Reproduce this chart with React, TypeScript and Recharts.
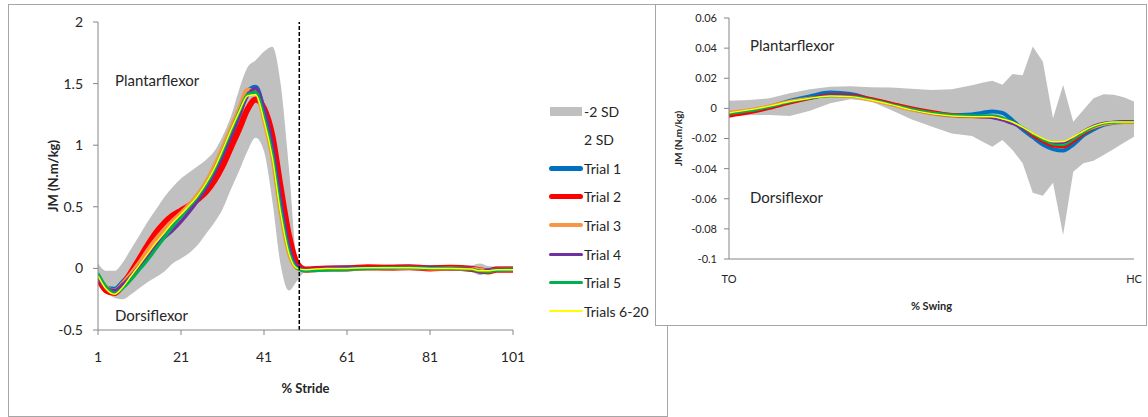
import { ComposedChart, Line, Area, XAxis, YAxis, ReferenceLine } from 'recharts';

// stance + swing (left chart), % stride
const strideX = [1, 3, 5, 7, 9, 11, 13, 15, 17, 19, 21, 23, 25, 27, 29, 31, 33, 35, 37, 39, 41, 43, 45, 47, 49, 51, 56, 61, 66, 71, 76, 81, 86, 91, 93, 95, 97, 101];
const strideSdLow = [-0.12, -0.19, -0.24, -0.25, -0.21, -0.16, -0.11, -0.07, -0.025, 0.04, 0.08, 0.125, 0.19, 0.28, 0.37, 0.48, 0.64, 0.79, 0.95, 1.06, 0.95, 0.55, 0.03, -0.18, -0.1, -0.03, -0.02, -0.015, -0.015, -0.01, -0.01, -0.015, -0.015, -0.03, -0.055, -0.04, -0.03, -0.025];
const strideSdHigh = [0.04, -0.02, -0.02, 0.05, 0.16, 0.27, 0.38, 0.48, 0.58, 0.66, 0.73, 0.78, 0.83, 0.88, 0.95, 1.07, 1.23, 1.45, 1.63, 1.69, 1.76, 1.8, 1.5, 0.82, 0.07, 0.02, 0.015, 0.015, 0.02, 0.02, 0.02, 0.015, 0.015, 0.025, 0.04, 0.02, 0.015, 0.015];
const strideTrial1 = [-0.07, -0.16, -0.17, -0.11, -0.04, 0.03, 0.13, 0.22, 0.3, 0.37, 0.44, 0.5, 0.57, 0.66, 0.78, 0.92, 1.08, 1.25, 1.43, 1.47, 1.26, 0.97, 0.52, 0.16, 0.01, -0.01, 0, 0.005, 0.005, 0.01, 0.01, 0.005, 0.005, 0, -0.02, -0.02, -0.005, -0.005];
const strideTrial2 = [-0.08, -0.18, -0.2, -0.13, -0.03, 0.08, 0.19, 0.29, 0.37, 0.43, 0.47, 0.51, 0.56, 0.62, 0.71, 0.83, 0.98, 1.13, 1.29, 1.37, 1.3, 1.08, 0.66, 0.27, 0.04, -0.01, 0, 0, 0.01, 0.005, 0.01, 0, 0.005, -0.005, -0.015, -0.025, -0.01, -0.01];
const strideTrial3 = [-0.06, -0.15, -0.18, -0.12, -0.04, 0.05, 0.15, 0.24, 0.32, 0.39, 0.45, 0.52, 0.6, 0.7, 0.83, 0.98, 1.14, 1.3, 1.45, 1.44, 1.2, 0.9, 0.45, 0.12, 0, -0.015, -0.01, -0.005, 0, 0, 0.005, 0, 0, -0.005, -0.01, -0.02, -0.01, -0.01];
const strideTrial4 = [-0.07, -0.16, -0.18, -0.13, -0.06, 0.02, 0.1, 0.18, 0.25, 0.31, 0.38, 0.46, 0.55, 0.65, 0.77, 0.91, 1.07, 1.24, 1.4, 1.46, 1.3, 1.0, 0.56, 0.18, 0.02, -0.01, 0, 0.005, 0.005, 0.005, 0.01, 0.005, 0, -0.005, -0.03, -0.015, -0.01, -0.01];
const strideTrial5 = [-0.04, -0.15, -0.2, -0.16, -0.09, -0.01, 0.07, 0.16, 0.25, 0.34, 0.42, 0.5, 0.58, 0.68, 0.8, 0.95, 1.11, 1.27, 1.41, 1.43, 1.23, 0.93, 0.48, 0.14, 0, -0.02, -0.015, -0.01, 0, 0.005, 0.005, 0, 0, -0.01, -0.02, -0.03, -0.015, -0.01];
const strideTrials620 = [-0.06, -0.17, -0.21, -0.15, -0.06, 0.03, 0.12, 0.21, 0.29, 0.37, 0.44, 0.51, 0.59, 0.69, 0.81, 0.96, 1.12, 1.27, 1.4, 1.41, 1.2, 0.9, 0.45, 0.12, 0, -0.01, 0, 0, 0.005, 0.005, 0.005, 0, 0, -0.005, -0.02, -0.02, -0.01, -0.01];
const strideTicks = [1, 21, 41, 61, 81, 101];
const strideYTicks = [-0.5, 0, 0.5, 1, 1.5, 2];

// swing only (right chart), TO -> HC
const swingX = [0, 5, 10, 15, 20, 25, 30, 35, 40, 45, 50, 55, 60, 62.5, 65, 67.5, 70, 72.5, 75, 77.5, 80, 82.5, 85, 87.5, 90, 92.5, 95, 97.5, 100];
const swingSdLow = [-0.0044, -0.0045, -0.0044, -0.005, -0.0015, 0.0034, 0.006, 0.0047, -0.001, -0.0073, -0.012, -0.0166, -0.0183, -0.022, -0.0254, -0.021, -0.0276, -0.0365, -0.056, -0.058, -0.0493, -0.084, -0.042, -0.0365, -0.0347, -0.031, -0.027, -0.0228, -0.0188];
const swingSdHigh = [0.005, 0.0056, 0.0067, 0.01, 0.0127, 0.0144, 0.0147, 0.014, 0.0138, 0.0131, 0.0122, 0.0127, 0.0153, 0.017, 0.0184, 0.0157, 0.0228, 0.022, 0.041, 0.031, -0.0066, 0.0155, -0.0088, -0.001, 0.0067, 0.0094, 0.0091, 0.0074, 0.0045];
const swingTrial1 = [-0.004, -0.002, 0.001, 0.005, 0.008, 0.0105, 0.0095, 0.006, 0.003, -0.0005, -0.003, -0.0045, -0.004, -0.003, -0.002, -0.003, -0.008, -0.014, -0.019, -0.024, -0.027, -0.028, -0.024, -0.018, -0.014, -0.011, -0.0095, -0.009, -0.009];
const swingTrial2 = [-0.0052, -0.003, 0, 0.0035, 0.0065, 0.009, 0.0088, 0.0065, 0.0035, 0.0005, -0.002, -0.004, -0.005, -0.0055, -0.0055, -0.007, -0.0095, -0.013, -0.018, -0.022, -0.025, -0.0255, -0.022, -0.017, -0.013, -0.0105, -0.0095, -0.009, -0.0092];
const swingTrial3 = [-0.002, -0.0005, 0.002, 0.005, 0.007, 0.008, 0.0075, 0.005, 0.002, -0.0015, -0.004, -0.0055, -0.006, -0.006, -0.006, -0.0075, -0.0095, -0.013, -0.017, -0.0205, -0.0225, -0.0225, -0.0195, -0.016, -0.013, -0.011, -0.01, -0.0098, -0.0098];
const swingTrial4 = [-0.0035, -0.002, 0.0008, 0.004, 0.0068, 0.0088, 0.0085, 0.006, 0.0028, -0.0008, -0.0035, -0.005, -0.0058, -0.006, -0.0065, -0.008, -0.0105, -0.0135, -0.017, -0.0205, -0.023, -0.023, -0.0195, -0.015, -0.0115, -0.0095, -0.0088, -0.0088, -0.0088];
const swingTrial5 = [-0.0038, -0.002, 0.0008, 0.004, 0.0065, 0.008, 0.008, 0.006, 0.003, 0, -0.0025, -0.004, -0.0045, -0.0045, -0.0045, -0.006, -0.009, -0.0125, -0.017, -0.021, -0.024, -0.0245, -0.021, -0.0165, -0.0125, -0.0102, -0.0095, -0.0092, -0.0092];
const swingTrials620 = [-0.003, -0.001, 0.0015, 0.0045, 0.0068, 0.0082, 0.0078, 0.0055, 0.0025, -0.001, -0.0035, -0.005, -0.0055, -0.0055, -0.0055, -0.007, -0.009, -0.0125, -0.0165, -0.02, -0.0222, -0.022, -0.019, -0.015, -0.0118, -0.0098, -0.009, -0.009, -0.009];
const swingYTicks = [-0.1, -0.08, -0.06, -0.04, -0.02, 0, 0.02, 0.04, 0.06];

const legendItems = [
  { name: '-2 SD', color: '#c0c0c0', kind: 'box' },
  { name: '2 SD', color: 'none', kind: 'none' },
  { name: 'Trial 1', color: '#0070c0', width: 5 },
  { name: 'Trial 2', color: '#ff0000', width: 5 },
  { name: 'Trial 3', color: '#f79646', width: 4 },
  { name: 'Trial 4', color: '#7030a0', width: 3 },
  { name: 'Trial 5', color: '#00b050', width: 3 },
  { name: 'Trials 6-20', color: '#ffff00', width: 2 },
];

const FONT = 'Lato, "Open Sans", sans-serif';
const AXIS = '#868686';
const TEXT = '#262626';

const strideData = strideX.map((x, i) => ({
  x,
  band: [strideSdLow[i], strideSdHigh[i]],
  t1: strideTrial1[i],
  t2: strideTrial2[i],
  t3: strideTrial3[i],
  t4: strideTrial4[i],
  t5: strideTrial5[i],
  t6: strideTrials620[i],
}));

const swingData = swingX.map((x, i) => ({
  x,
  band: [swingSdLow[i], swingSdHigh[i]],
  t1: swingTrial1[i],
  t2: swingTrial2[i],
  t3: swingTrial3[i],
  t4: swingTrial4[i],
  t5: swingTrial5[i],
  t6: swingTrials620[i],
}));

const note = (left: number, top: number, text: string) => (
  <div style={{ position: 'absolute', left, top, fontSize: 15, lineHeight: '18px', color: TEXT, whiteSpace: 'nowrap' }}>{text}</div>
);

export default function App() {
  return (
    <div style={{ position: 'fixed', left: 0, top: 0, width: 1148, height: 417, background: '#fff', fontFamily: FONT }}>
      <div style={{ position: 'absolute', left: 8, top: 4, width: 660, height: 413, border: '1px solid #a6a6a6', boxSizing: 'border-box' }} />

      <div style={{ position: 'absolute', left: 0, top: 0 }}>
        <ComposedChart width={667} height={417} data={strideData} margin={{ top: 22, right: 154, bottom: 22, left: 38 }}>
          <XAxis
            type="number"
            dataKey="x"
            domain={[1, 101]}
            ticks={strideTicks}
            allowDataOverflow
            height={65}
            stroke={AXIS}
            tickSize={5}
            tickMargin={17}
            tick={{ fill: TEXT, fontSize: 14, fontFamily: FONT }}
            label={{ value: '% Stride', position: 'insideBottom', offset: 2, fill: TEXT, fontSize: 13, fontWeight: 700, fontFamily: FONT }}
          />
          <YAxis
            domain={[-0.5, 2]}
            ticks={strideYTicks}
            width={60}
            stroke={AXIS}
            tickSize={5}
            tickMargin={10}
            tick={{ fill: TEXT, fontSize: 14, fontFamily: FONT }}
            label={{ value: 'JM (N.m/kg)', angle: -90, position: 'insideLeft', offset: 15, fill: TEXT, fontSize: 13, fontWeight: 700, fontFamily: FONT, style: { textAnchor: 'middle' } }}
          />
          <Area type="monotone" dataKey="band" fill="#c0c0c0" fillOpacity={1} stroke="none" isAnimationActive={false} />
          <Line type="monotone" dataKey="t1" stroke="#0070c0" strokeWidth={5} dot={false} isAnimationActive={false} />
          <Line type="monotone" dataKey="t2" stroke="#ff0000" strokeWidth={6} dot={false} isAnimationActive={false} />
          <Line type="monotone" dataKey="t3" stroke="#f79646" strokeWidth={4} dot={false} isAnimationActive={false} />
          <Line type="monotone" dataKey="t4" stroke="#7030a0" strokeWidth={3.5} dot={false} isAnimationActive={false} />
          <Line type="monotone" dataKey="t5" stroke="#00b050" strokeWidth={3} dot={false} isAnimationActive={false} />
          <Line type="monotone" dataKey="t6" stroke="#ffff00" strokeWidth={1.5} dot={false} isAnimationActive={false} />
          <ReferenceLine x={49.5} stroke="#000" strokeWidth={1.5} strokeDasharray="4 2" />
        </ComposedChart>
      </div>

      {note(115, 71, 'Plantarflexor')}
      {note(115, 306, 'Dorsiflexor')}

      {legendItems.map((item, i) => (
        <div key={item.name} style={{ position: 'absolute', left: 548, top: 102 + i * 28.6, height: 18, display: 'flex', alignItems: 'center' }}>
          <div style={{ width: 36, height: 18, display: 'flex', alignItems: 'center', justifyContent: 'center' }}>
            {item.kind === 'box' ? (
              <div style={{ width: 32, height: 9, background: item.color }} />
            ) : item.kind === 'none' ? null : (
              <div style={{ width: 34, height: item.width, background: item.color, borderRadius: 3 }} />
            )}
          </div>
          <span style={{ fontSize: 14, color: TEXT, whiteSpace: 'nowrap' }}>{item.name}</span>
        </div>
      ))}

      <div style={{ position: 'absolute', left: 655, top: 4, width: 492, height: 322, border: '1px solid #a6a6a6', boxSizing: 'border-box', background: '#fff' }} />
      <div style={{ position: 'absolute', left: 655, top: 4 }}>
        <ComposedChart width={491} height={321} data={swingData} margin={{ top: 14, right: 12, bottom: 11, left: 0 }}>
          <XAxis
            type="number"
            dataKey="x"
            domain={[0, 100]}
            ticks={[0, 100]}
            tickFormatter={(v: number) => (v === 0 ? 'TO' : 'HC')}
            height={55}
            stroke={AXIS}
            tickLine={false}
            tickSize={0}
            tickMargin={16}
            tick={{ fill: TEXT, fontSize: 11, fontFamily: FONT }}
            label={{ value: '% Swing', position: 'insideBottom', offset: 4, fill: TEXT, fontSize: 11, fontWeight: 700, fontFamily: FONT }}
          />
          <YAxis
            domain={[-0.1, 0.06]}
            ticks={swingYTicks}
            width={74}
            stroke={AXIS}
            tickSize={5}
            tickMargin={7}
            tick={{ fill: TEXT, fontSize: 11, fontFamily: FONT }}
            label={{ value: 'JM (N.m/kg)', angle: -90, position: 'insideLeft', offset: 23, fill: TEXT, fontSize: 10, fontWeight: 700, fontFamily: FONT, style: { textAnchor: 'middle' } }}
          />
          <Area type="linear" dataKey="band" fill="#c0c0c0" fillOpacity={1} stroke="none" isAnimationActive={false} />
          <Line type="monotone" dataKey="t1" stroke="#0070c0" strokeWidth={4} dot={false} isAnimationActive={false} />
          <Line type="monotone" dataKey="t2" stroke="#ff0000" strokeWidth={3} dot={false} isAnimationActive={false} />
          <Line type="monotone" dataKey="t3" stroke="#f79646" strokeWidth={2} dot={false} isAnimationActive={false} />
          <Line type="monotone" dataKey="t4" stroke="#7030a0" strokeWidth={2} dot={false} isAnimationActive={false} />
          <Line type="monotone" dataKey="t5" stroke="#00b050" strokeWidth={2} dot={false} isAnimationActive={false} />
          <Line type="monotone" dataKey="t6" stroke="#ffff00" strokeWidth={1.5} dot={false} isAnimationActive={false} />
        </ComposedChart>
      </div>

      {note(750, 36, 'Plantarflexor')}
      {note(750, 188, 'Dorsiflexor')}
    </div>
  );
}
